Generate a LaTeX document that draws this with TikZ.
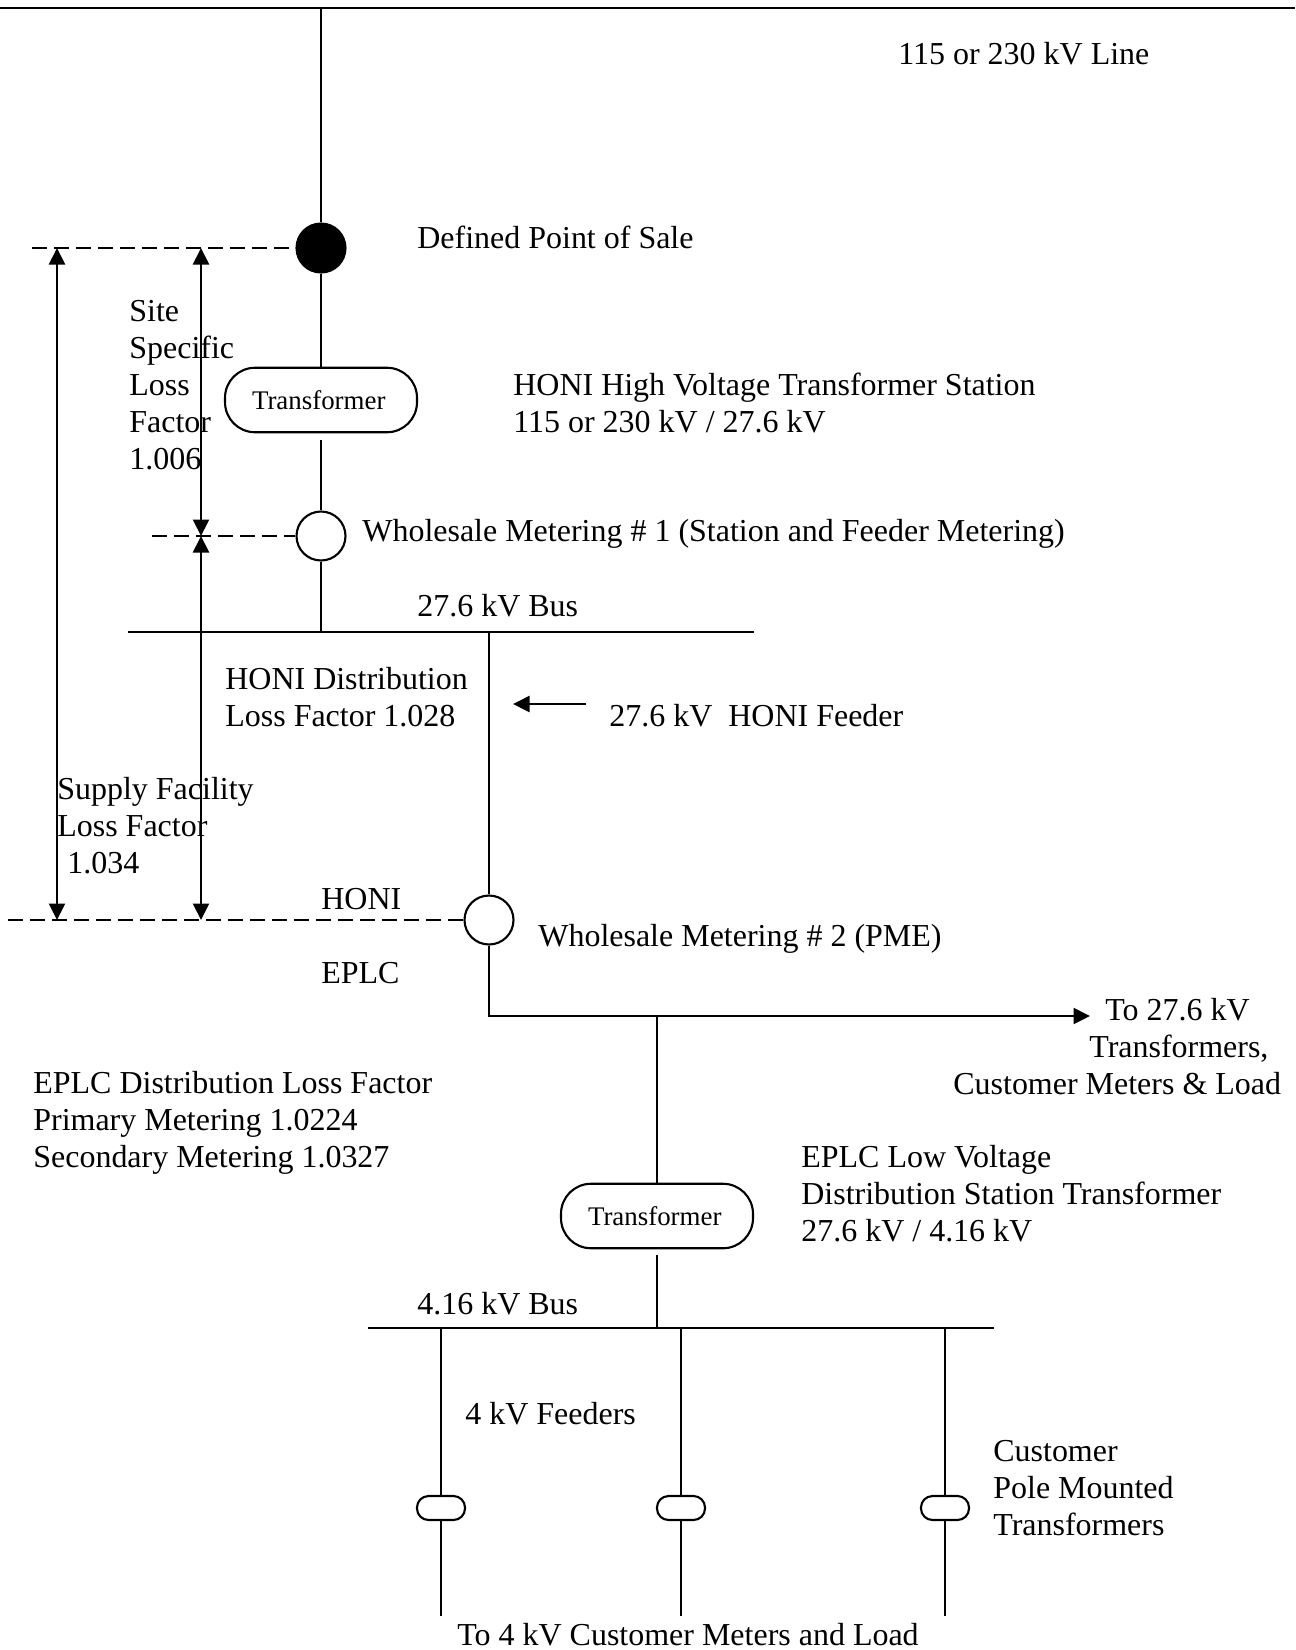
\documentclass[tikz,border=0pt]{standalone}
\usepackage{fontspec}
\setmainfont{Liberation Serif}
\usepackage{tikz}
\usetikzlibrary{arrows.meta,positioning,calc}

\begin{document}
\begin{tikzpicture}[
    x=0.02cm, y=-0.02cm,
    font=\fontsize{18.2}{20.95}\selectfont,
    wire/.style={line width=1.2pt},
    arrow/.style={wire, -{Triangle[length=0.33cm,width=0.32cm]}},
    bothways/.style={wire, {Triangle[length=0.33cm,width=0.32cm]}-{Triangle[length=0.33cm,width=0.32cm]}},
    boundary/.style={wire, dash pattern=on 0.3cm off 0.14cm},
    label/.style={anchor=base west, align=left, inner sep=0pt},
    meter/.style={circle, draw, line width=1.2pt, fill=white, minimum size=0.98cm, inner sep=0pt},
    sale/.style={meter, fill=black},
    xfmr/.style={rectangle, draw, line width=1.2pt, rounded corners=0.6cm, minimum width=3.84cm, minimum height=1.29cm, inner sep=0pt, font=\fontsize{15.3}{18}\selectfont},
    polexfmr/.style={rectangle, draw, line width=1.2pt, rounded corners=0.23cm, minimum width=0.96cm, minimum height=0.48cm, inner sep=0pt}
]
    \useasboundingbox (0,0) rectangle (1295,1650);

    % equipment
    \node[sale] (dps) at (321,248) {};
    \node[xfmr] (xfmrHV) at (321,400) {Transformer\hspace*{0.09cm}};
    \node[meter] (meterA) at (321,536) {};
    \node[meter] (meterB) at (489,920) {};
    \node[xfmr] (xfmrLV) at (657,1216) {Transformer\hspace*{0.09cm}};
    \node[polexfmr] (poleA) at (441,1508) {};
    \node[polexfmr] (poleB) at (681,1508) {};
    \node[polexfmr] (poleC) at (945,1508) {};

    % line and bus ends
    \coordinate (lineL) at (0,8);
    \coordinate (lineR) at (1295,8);
    \coordinate (lineTap) at (321,8);
    \coordinate (busAL) at (128,632);
    \coordinate (busAR) at (754,632);
    \coordinate (busAm) at (321,632);
    \coordinate (busAf) at (489,632);
    \coordinate (corner) at (489,1016);
    \coordinate (branch) at (657,1016);
    \coordinate (toLoad) at (1090,1016);
    \coordinate (busBL) at (368,1328);
    \coordinate (busBR) at (994,1328);
    \coordinate (busBx) at (657,1328);
    \coordinate (busBa) at (441,1328);
    \coordinate (busBb) at (681,1328);
    \coordinate (busBc) at (945,1328);
    \coordinate (endA) at (441,1616);
    \coordinate (endB) at (681,1616);
    \coordinate (endC) at (945,1616);

    \draw[wire] (lineL) -- (lineR);
    \draw[wire] (lineTap) -- (dps);
    \draw[wire] (dps) -- (xfmrHV);
    \draw[wire, shorten <=0.14cm] (xfmrHV) -- (meterA);
    \draw[wire] (meterA) -- (busAm);
    \draw[wire] (busAL) -- (busAR);
    \draw[wire] (busAf) -- (meterB);
    \draw[arrow] (meterB) |- (toLoad);
    \draw[wire] (branch) -- (xfmrLV);
    \draw[wire, shorten <=0.12cm] (xfmrLV) -- (busBx);
    \draw[wire] (busBL) -- (busBR);
    \draw[wire] (busBa) -- (poleA);
    \draw[wire] (busBb) -- (poleB);
    \draw[wire] (busBc) -- (poleC);
    \draw[wire] (poleA) -- (endA);
    \draw[wire] (poleB) -- (endB);
    \draw[wire] (poleC) -- (endC);

    % loss factor boundaries
    \coordinate (dashA) at (32,248);
    \coordinate (dashB) at (152,536);
    \coordinate (dashC) at (8,920);
    \coordinate (spanAt) at (57,248);
    \coordinate (spanAb) at (57,920);
    \coordinate (spanBt) at (201,248);
    \coordinate (spanBm) at (201,536);
    \coordinate (spanBb) at (201,920);
    \draw[boundary, shorten >=0.12cm] (dashA) -- (dps);
    \draw[boundary] (dashB) -- (meterA);
    \draw[boundary] (dashC) -- (meterB);
    \draw[bothways] (spanAt) -- (spanAb);
    \draw[bothways] (spanBt) -- (spanBm);
    \draw[bothways] (spanBm) -- (spanBb);

    % feeder pointer
    \coordinate (ptrS) at (586,704);
    \coordinate (ptrE) at (513,704);
    \draw[arrow] (ptrS) -- (ptrE);

    % labels
    \node[label] (lblLine) at (898,64) {115 or 230 kV Line};
    \node[label] (lblSale) at (417,248) {Defined Point of Sale};
    \node[label] (lblSite) at (129,469) {Site\\Specific\\Loss\\Factor\\1.006};
    \node[label] (lblHV) at (513,432) {HONI High Voltage Transformer Station\\115 or 230 kV / 27.6 kV};
    \node[label] (lblMeterA) at (362,541) {Wholesale Metering \# 1 (Station and Feeder Metering)};
    \node[label] (lblBusA) at (417,616) {27.6 kV Bus};
    \node[label] (lblDist) at (225,726) {HONI Distribution\\Loss Factor 1.028};
    \node[label] (lblFeeder) at (609,726) {27.6 kV\ \ HONI Feeder};
    \node[label] (lblSupply) at (57,873) {Supply Facility\\Loss Factor\\\hspace*{0.2cm}1.034};
    \node[label] (lblHoni) at (321,909) {HONI};
    \node[label] (lblEplc) at (321,983) {EPLC};
    \node[label] (lblMeterB) at (538,946) {Wholesale Metering \# 2 (PME)};
    \node[label] (lblTo) at (953,1094) {\hspace*{3.04cm}To 27.6 kV\\\hspace*{2.72cm}Transformers,\\Customer Meters \& Load};
    \node[label] (lblEplcLoss) at (33,1167) {EPLC Distribution Loss Factor\\Primary Metering 1.0224\\Secondary Metering 1.0327};
    \node[label] (lblLV) at (801,1241) {EPLC Low Voltage\\Distribution Station Transformer\\27.6 kV / 4.16 kV};
    \node[label] (lblBusB) at (417,1314) {4.16 kV Bus};
    \node[label] (lblFeeders) at (465,1424) {4 kV Feeders};
    \node[label] (lblPole) at (993,1535) {Customer\\Pole Mounted\\Transformers};
    \node[label] (lblLoad) at (457,1645) {To 4 kV Customer Meters and Load};
\end{tikzpicture}
\end{document}
